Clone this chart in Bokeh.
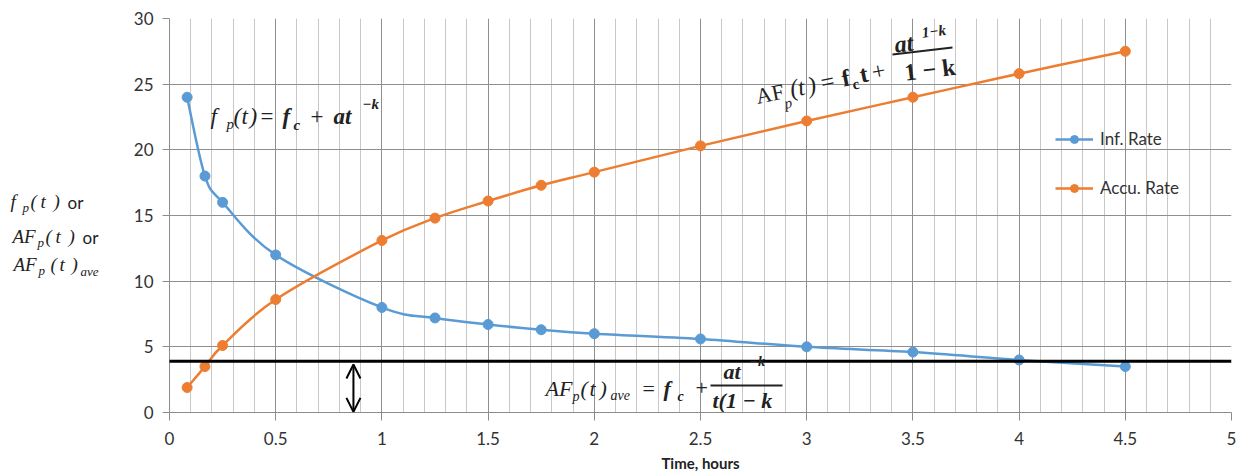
import math
from bokeh.plotting import figure
from bokeh.layouts import row
from bokeh.models import (FixedTicker, Label, Arrow, OpenHead, Legend, LegendItem,
                          Range1d, ColumnDataSource)
from bokeh.embed import file_html
from bokeh.resources import INLINE

# ---------------- data ----------------
time_h = [0.083, 0.167, 0.25, 0.5, 1.0, 1.25, 1.5, 1.75, 2.0, 2.5, 3.0, 3.5, 4.0, 4.5]
inf_rate = [24.0, 18.0, 16.0, 12.0, 8.0, 7.2, 6.7, 6.3, 6.0, 5.6, 5.0, 4.6, 4.0, 3.5]
accu_rate = [1.9, 3.5, 5.1, 8.6, 13.1, 14.8, 16.1, 17.3, 18.3, 20.3, 22.2, 24.0, 25.8, 27.5]
ave_rate = 3.9
arrow_time = 0.866
series_names = ["Inf. Rate", "Accu. Rate"]
x_ticks = [0, 0.5, 1, 1.5, 2, 2.5, 3, 3.5, 4, 4.5, 5]
x_tick_labels = ["0", "0.5", "1", "1.5", "2", "2.5", "3", "3.5", "4", "4.5", "5"]
y_ticks = [0, 5, 10, 15, 20, 25, 30]
y_tick_labels = ["0", "5", "10", "15", "20", "25", "30"]
x_title = "Time, hours"

BLUE = "#5B9BD5"
ORANGE = "#ED7D31"
TXT = "#222222"
SERIF = "Liberation Serif"
SANS = "Lato"

W, H = 1246, 475
LEFTW = 110  # width of the side panel carrying the y-axis title
FL, FR, FT, FB = 169, 1231, 18, 412
XMAX, YMAX = 5.0, 30.0
BASE_FIX = 0.32  # baseline correction (fraction of font size)


def dxp(px):
    return (px - FL) / (FR - FL) * XMAX


def dyp(py):
    return (FB - py) / (FB - FT) * YMAX


# side panel
side = figure(width=LEFTW, height=H, x_range=Range1d(0, 1), y_range=Range1d(0, 1),
              output_backend="svg", toolbar_location=None,
              x_axis_location=None, y_axis_location=None,
              min_border_left=0, min_border_right=0, min_border_top=0, min_border_bottom=0)
side.grid.visible = False
side.outline_line_color = None
side.background_fill_color = "white"
side.border_fill_color = "white"

p = figure(width=W - LEFTW, height=H, x_range=Range1d(0, XMAX), y_range=Range1d(0, YMAX),
           output_backend="svg", toolbar_location=None,
           min_border_left=FL - LEFTW, min_border_right=W - FR, min_border_top=FT,
           min_border_bottom=H - FB)
p.outline_line_color = None
p.background_fill_color = "white"
p.border_fill_color = "white"

minor = [i / 10 for i in range(0, 51) if i % 5 != 0]
p.xaxis.ticker = FixedTicker(ticks=x_ticks, minor_ticks=minor)
p.xaxis.major_label_overrides = {t: l for t, l in zip(x_ticks, x_tick_labels)}
p.yaxis.ticker = FixedTicker(ticks=y_ticks)
p.yaxis.major_label_overrides = {t: l for t, l in zip(y_ticks, y_tick_labels)}

for ax in (p.xaxis, p.yaxis):
    ax.axis_line_color = "#8c8c8c"
    ax.major_tick_line_color = "#8c8c8c"
    ax.minor_tick_line_color = None
    ax.major_tick_in = 0
    ax.major_label_text_font = SANS
    ax.major_label_text_font_size = "17px"
    ax.major_label_text_color = "#333333"
p.xaxis.major_tick_out = 8
p.xaxis.major_label_standoff = 11
p.yaxis.major_tick_out = 7
p.yaxis.major_label_standoff = 9
p.xaxis.axis_label = x_title
p.xaxis.axis_label_text_font = SANS
p.xaxis.axis_label_text_font_style = "bold"
p.xaxis.axis_label_text_font_size = "15px"
p.xaxis.axis_label_text_color = "#222222"
p.xaxis.axis_label_standoff = 6

p.xgrid.grid_line_color = "#8f8f8f"
p.xgrid.minor_grid_line_color = "#c8c8c8"
p.ygrid.grid_line_color = "#8f8f8f"


def smooth(xs, ys):
    n = len(xs)
    d = dict(x0=[], y0=[], x1=[], y1=[], cx0=[], cy0=[], cx1=[], cy1=[])
    for i in range(n - 1):
        im = max(i - 1, 0)
        ip2 = min(i + 2, n - 1)
        d["x0"].append(xs[i]); d["y0"].append(ys[i])
        d["x1"].append(xs[i + 1]); d["y1"].append(ys[i + 1])
        d["cx0"].append(xs[i] + (xs[i + 1] - xs[im]) / 6)
        d["cy0"].append(ys[i] + (ys[i + 1] - ys[im]) / 6)
        d["cx1"].append(xs[i + 1] - (xs[ip2] - xs[i]) / 6)
        d["cy1"].append(ys[i + 1] - (ys[ip2] - ys[i]) / 6)
    return ColumnDataSource(d)


items = []
for name, ys, col in zip(series_names, [inf_rate, accu_rate], [BLUE, ORANGE]):
    rl = p.bezier(x0="x0", y0="y0", x1="x1", y1="y1", cx0="cx0", cy0="cy0",
                  cx1="cx1", cy1="cy1", source=smooth(time_h, ys),
                  line_color=col, line_width=2.5)
    rs = p.scatter(time_h, ys, size=10, fill_color=col, line_color=col)
    items.append(LegendItem(label=name, renderers=[rl, rs]))

legend = Legend(items=items, location=(886, 214), background_fill_alpha=0,
                border_line_color=None, padding=0, margin=0, spacing=28,
                glyph_width=38, glyph_height=20, label_height=20, label_standoff=7,
                label_text_font=SANS, label_text_font_size="17px",
                label_text_color="#333333")
p.add_layout(legend)

# average line and double arrow
p.add_layout(Arrow(start=None, end=None, x_start=dxp(155), y_start=ave_rate,
                   x_end=XMAX, y_end=ave_rate, line_color="black", line_width=3))
p.add_layout(Arrow(start=OpenHead(size=14, line_width=2, line_color="black"),
                   end=OpenHead(size=14, line_width=2, line_color="black"),
                   x_start=arrow_time, y_start=dyp(364), x_end=arrow_time, y_end=0.05,
                   line_color="black", line_width=2))


def lab(text, px, py, size, style="italic", font=SERIF, angle=0.0, fig=None):
    # px, py: page pixels of the baseline-left point of the text
    a = math.radians(angle)
    c = BASE_FIX * size
    qx = px - c * math.sin(a)
    qy = py - c * math.cos(a)
    if fig is None:
        target, x = p, qx - LEFTW
    else:
        target, x = fig, qx
    target.add_layout(Label(x=x, y=qy, x_units="canvas", y_units="canvas",
                            text=text, text_font=font,
                            text_font_size=f"{size}px", text_font_style=style,
                            text_color=TXT, text_baseline="alphabetic",
                            text_align="left", angle=a))


def bar(px0, py0, px1, py1, w=2):
    p.add_layout(Arrow(start=None, end=None, x_start=dxp(px0), y_start=dyp(py0),
                       x_end=dxp(px1), y_end=dyp(py1), line_color=TXT, line_width=w))


# left axis title (3 lines) in the side panel
S = side
lab("f", 10, 207, 19, fig=S)
lab("p", 22, 211, 13, fig=S)
lab("(", 30, 207, 19, fig=S)
lab("t", 40, 207, 19, fig=S)
lab(")", 53, 207, 19, fig=S)
lab("or", 67, 207, 17, "normal", SANS, fig=S)
lab("AF", 12, 242, 19, fig=S)
lab("p", 37, 246, 13, fig=S)
lab("(", 45, 242, 19, fig=S)
lab("t", 55, 242, 19, fig=S)
lab(")", 68, 242, 19, fig=S)
lab("or", 82, 242, 17, "normal", SANS, fig=S)
lab("AF", 13, 270, 19, fig=S)
lab("p", 38, 274, 13, fig=S)
lab("(", 50, 270, 19, fig=S)
lab("t", 59, 270, 19, fig=S)
lab(")", 71, 270, 19, fig=S)
lab("ave", 80, 275, 13, fig=S)

# formula 1
lab("f", 210, 123, 23)
lab("p", 226, 128, 15)
lab("(", 233, 123, 23)
lab("t", 241, 123, 23)
lab(")", 249, 123, 23)
lab("=", 260, 123, 23, "normal")
lab("f", 282, 123, 23, "bold italic")
lab("c", 293, 129, 15, "bold italic")
lab("+", 310, 123, 23, "normal")
lab("at", 333, 123, 23, "bold italic")
lab("\u2212k", 362, 108, 15, "bold italic")

# formula 3
lab("AF", 545, 395, 22)
lab("p", 572, 400, 14)
lab("(", 580, 395, 22)
lab("t", 589, 395, 22)
lab(")", 599, 395, 22)
lab("ave", 610, 399, 14)
lab("=", 642, 395, 22, "normal")
lab("f", 663, 395, 22, "bold italic")
lab("c", 677, 400, 14, "bold italic")
lab("+", 695, 395, 22, "normal")
lab("at", 723, 378, 22, "bold italic")
lab("\u2212k", 749, 365, 14, "bold italic")
bar(710, 385, 782, 385)
lab("t(1 \u2212 k", 712, 407, 22, "bold italic")

# formula 2 (rotated)
A = 11.5
lab("AF", 757, 103, 22, "normal", angle=A)
lab("p", 785, 108, 15, angle=A)
lab("(", 791, 96, 24, angle=A)
lab("t", 799, 95, 24, angle=A)
lab(")", 809, 93, 24, angle=A)
lab("=", 822, 90, 24, "normal", angle=A)
lab("f", 843, 86, 24, "bold", angle=A)
lab("c", 853, 89, 15, "bold", angle=A)
lab("t", 861, 82, 24, "bold", angle=A)
lab("+", 873, 80, 24, "normal", angle=A)
lab("at", 895, 52, 24, "bold italic", angle=7)
lab("1\u2212k", 922, 37, 15, "bold italic", angle=7)
bar(892, 54, 952, 47)
lab("1 \u2212 k", 905, 80, 24, "bold", angle=7)

layout = row(side, p, spacing=0)
open("out.html", "w").write(file_html(layout, INLINE))
